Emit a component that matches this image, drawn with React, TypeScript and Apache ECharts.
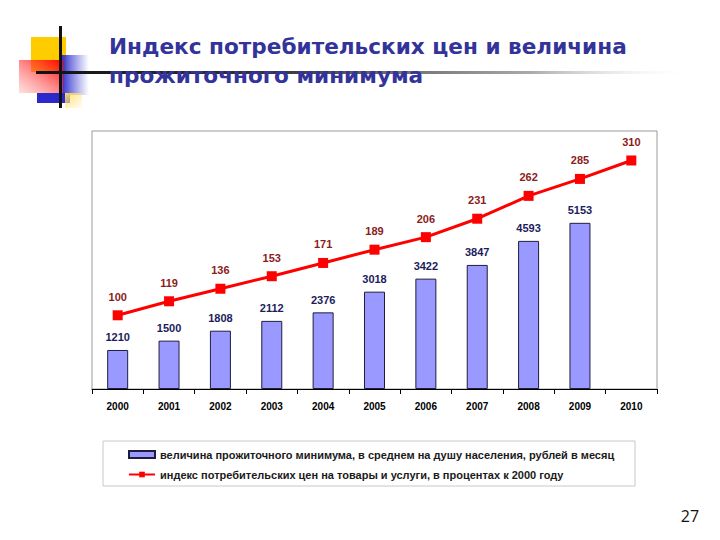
import React, { useEffect, useRef } from "react";
import * as echarts from "echarts";

const years = ["2000", "2001", "2002", "2003", "2004", "2005", "2006", "2007", "2008", "2009", "2010"];
const subsistence = [1210, 1500, 1808, 2112, 2376, 3018, 3422, 3847, 4593, 5153, null];
const cpi = [100, 119, 136, 153, 171, 189, 206, 231, 262, 285, 310];
const barName = "величина прожиточного минимума, в среднем на душу населения, рублей в месяц";
const lineName = "индекс потребительских цен на товары и услуги, в процентах к 2000 году";
const titleLines = ["Индекс потребительских цен и величина", "прожиточного минимума"];
const pageNumber = "27";

export default function App() {
  const ref = useRef<HTMLDivElement>(null);
  useEffect(() => {
    if (!ref.current) return;
    const chart = echarts.init(ref.current, null, { renderer: "svg" });
    const font = "'Liberation Sans', Arial, sans-serif";
    const titleFont = "'DejaVu Sans', Verdana, sans-serif";
    chart.setOption({
      animation: false,
      backgroundColor: "#ffffff",
      grid: {
        left: 92,
        right: 63,
        top: 131,
        bottom: 151,
        show: true,
        borderColor: "#9a9a9a",
        borderWidth: 1,
      },
      legend: {
        orient: "vertical",
        left: 123,
        top: 444,
        itemWidth: 26,
        itemHeight: 7,
        itemGap: 9,
        textStyle: { fontFamily: font, fontWeight: "bold", fontSize: 11, color: "#1a1a1a" },
        data: [{ name: barName, icon: "rect" }, { name: lineName }],
      },
      xAxis: {
        type: "category",
        data: years,
        axisLine: { lineStyle: { color: "#000", width: 1 } },
        axisTick: { show: true, length: 5, lineStyle: { color: "#000" } },
        axisLabel: {
          fontFamily: font,
          fontWeight: "bold",
          fontSize: 10,
          color: "#000",
          margin: 12,
        },
      },
      yAxis: [
        { type: "value", min: 0, max: 8000, show: false, splitLine: { show: false } },
        { type: "value", min: 0, max: 350, show: false, splitLine: { show: false } },
      ],
      series: [
        {
          name: barName,
          type: "bar",
          data: subsistence,
          yAxisIndex: 0,
          barWidth: 21,
          itemStyle: { color: "#9999ff", borderColor: "#1e1e3c", borderWidth: 1 },
          label: {
            show: true,
            position: "top",
            distance: 7,
            fontFamily: font,
            fontWeight: "bold",
            fontSize: 11,
            color: "#1c1c5c",
          },
        },
        {
          name: lineName,
          type: "line",
          data: cpi,
          yAxisIndex: 1,
          symbol: "rect",
          symbolSize: 10,
          lineStyle: { color: "#ff0000", width: 3 },
          itemStyle: { color: "#ff0000" },
          label: {
            show: true,
            position: "top",
            distance: 8,
            fontFamily: font,
            fontWeight: "bold",
            fontSize: 11,
            color: "#8b1c1c",
          },
          z: 5,
        },
      ],
      graphic: [
        {
          type: "rect",
          shape: { x: 103, y: 441, width: 532, height: 45 },
          style: { fill: "none", stroke: "#c8c8c8", lineWidth: 1 },
          silent: true,
        },
        {
          type: "rect",
          shape: { x: 31, y: 37, width: 35, height: 35 },
          style: { fill: "#ffcc00" },
        },
        {
          type: "rect",
          shape: { x: 62, y: 55, width: 27, height: 40 },
          style: {
            fill: new echarts.graphic.LinearGradient(0, 0, 1, 0, [
              { offset: 0, color: "#3333cc" },
              { offset: 1, color: "rgba(80,80,220,0)" },
            ]),
          },
        },
        {
          type: "rect",
          shape: { x: 19, y: 60, width: 44, height: 33 },
          style: {
            fill: new echarts.graphic.LinearGradient(1, 0, 0, 1, [
              { offset: 0, color: "#ff0000" },
              { offset: 1, color: "rgba(255,120,120,0.25)" },
            ]),
          },
        },
        {
          type: "rect",
          shape: { x: 37, y: 93, width: 33, height: 10 },
          style: { fill: "#2a2acc" },
        },
        {
          type: "rect",
          shape: { x: 65, y: 93, width: 17, height: 15 },
          style: {
            fill: new echarts.graphic.LinearGradient(0, 0, 1, 1, [
              { offset: 0, color: "#ffdd55" },
              { offset: 1, color: "rgba(255,240,180,0.2)" },
            ]),
          },
        },
        {
          type: "rect",
          shape: { x: 59, y: 26, width: 3, height: 82 },
          style: { fill: "#111" },
        },
        {
          type: "rect",
          shape: { x: 36, y: 71, width: 660, height: 3 },
          style: {
            fill: new echarts.graphic.LinearGradient(0, 0, 1, 0, [
              { offset: 0, color: "#111" },
              { offset: 0.35, color: "#333" },
              { offset: 0.75, color: "#aaa" },
              { offset: 1, color: "rgba(255,255,255,0)" },
            ]),
          },
        },
        {
          type: "text",
          x: 109,
          y: 46,
          style: {
            text: titleLines[0],
            fontFamily: titleFont,
            fontWeight: "bold",
            fontSize: 21.6,
            fill: "#333399",
            verticalAlign: "middle",
          },
        },
        {
          type: "text",
          x: 109,
          y: 75,
          style: {
            text: titleLines[1],
            fontFamily: titleFont,
            fontWeight: "bold",
            fontSize: 21.6,
            fill: "#333399",
            verticalAlign: "middle",
          },
        },
        {
          type: "text",
          x: 690,
          y: 516,
          style: {
            text: pageNumber,
            fontFamily: "'Open Sans', sans-serif",
            fontSize: 16,
            fill: "#111",
            align: "center",
            verticalAlign: "middle",
          },
        },
      ],
    });
    return () => chart.dispose();
  }, []);
  return (
    <div
      ref={ref}
      style={{ position: "fixed", left: 0, top: 0, width: 720, height: 540 }}
    />
  );
}
